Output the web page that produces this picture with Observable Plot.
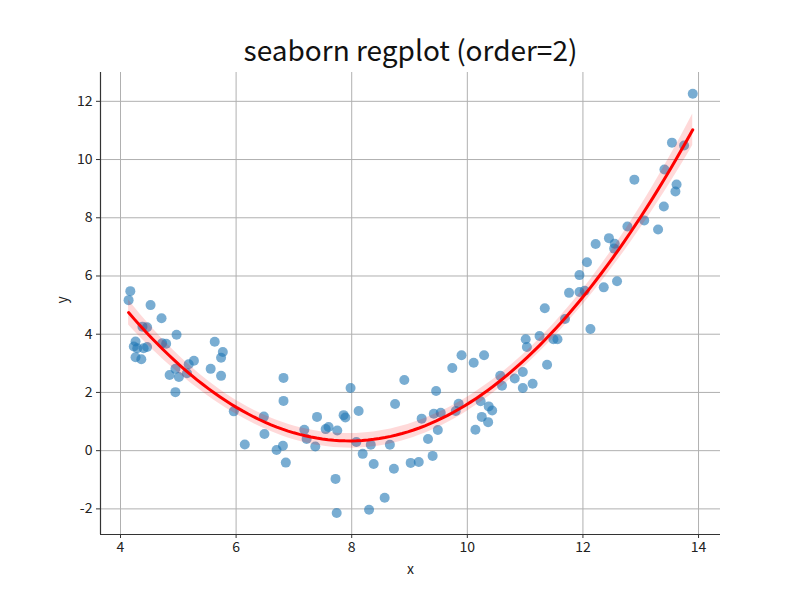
<!DOCTYPE html>
<html><head><meta charset="utf-8">
<script src="https://cdn.jsdelivr.net/npm/d3@7"></script>
<script src="https://cdn.jsdelivr.net/npm/@observablehq/plot@0.6"></script>
<style>body{margin:0;background:#fff}</style>
</head><body><div id="chart"></div>
<script>
const xValues = [4.17,4.14,4.52,4.71,4.38,4.46,4.97,4.26,4.23,4.29,4.40,4.46,4.72,4.79,5.63,5.77,5.74,4.26,4.36,5.27,5.18,5.56,4.95,4.85,5.01,5.15,5.74,4.95,5.96,6.82,6.82,6.48,6.49,6.15,6.81,6.70,6.86,7.98,7.40,7.86,7.89,8.12,8.75,7.18,7.22,7.55,7.60,7.75,7.37,8.08,8.33,8.66,8.19,8.38,8.73,7.72,8.57,7.74,8.30,9.02,9.16,9.40,9.32,9.49,9.21,9.42,9.54,9.80,9.85,9.46,8.91,9.74,9.90,10.11,10.29,10.23,10.37,10.43,10.25,10.36,10.14,10.57,10.60,10.82,10.96,10.96,11.13,11.38,11.01,11.03,11.25,11.49,11.56,11.34,11.69,12.13,11.76,11.94,12.03,11.94,12.07,12.36,12.59,12.22,12.45,12.55,12.54,12.77,13.90,13.54,13.75,13.41,12.89,13.62,13.60,13.40,13.06,13.30];
const yValues = [5.48,5.17,5.00,4.55,4.26,4.24,3.98,3.75,3.58,3.52,3.52,3.56,3.69,3.67,3.74,3.39,3.19,3.21,3.14,3.09,2.97,2.81,2.81,2.60,2.53,2.66,2.57,2.01,1.35,2.50,1.71,1.17,0.57,0.21,0.17,0.02,-0.41,2.15,1.16,1.22,1.14,1.36,1.60,0.72,0.40,0.74,0.81,0.69,0.14,0.30,0.20,0.20,-0.11,-0.46,-0.62,-0.97,-1.62,-2.14,-2.03,-0.42,-0.39,-0.18,0.40,0.71,1.10,1.27,1.30,1.36,1.61,2.05,2.43,2.84,3.28,3.02,3.28,1.70,1.52,1.38,1.16,0.98,0.72,2.57,2.23,2.48,2.70,2.15,2.30,2.95,3.83,3.56,3.94,3.83,3.83,4.89,4.52,4.18,5.42,5.45,5.49,6.03,6.47,5.61,5.82,7.10,7.30,7.11,6.94,7.70,12.26,10.58,10.48,9.66,9.31,9.14,8.90,8.39,7.91,7.60];
const xTicks = [4, 6, 8, 10, 12, 14];
const yTicks = [-2, 0, 2, 4, 6, 8, 10, 12];
const title = "seaborn regplot (order=2)";
const xLabel = "x";
const yLabel = "y";

const data = xValues.map((x, i) => ({x, y: yValues[i]}));

// quadratic least-squares fit with 95% confidence band
function invert(m) {
  const n = m.length;
  const a = m.map((r, i) => [...r, ...m.map((_, j) => (i === j ? 1 : 0))]);
  for (let c = 0; c < n; c++) {
    let p = c;
    for (let r = c + 1; r < n; r++) if (Math.abs(a[r][c]) > Math.abs(a[p][c])) p = r;
    [a[c], a[p]] = [a[p], a[c]];
    const d = a[c][c];
    for (let k = 0; k < 2 * n; k++) a[c][k] /= d;
    for (let r = 0; r < n; r++) if (r !== c) {
      const f = a[r][c];
      for (let k = 0; k < 2 * n; k++) a[r][k] -= f * a[c][k];
    }
  }
  return a.map(r => r.slice(n));
}
const basis = x => [1, x, x * x];
const XtX = [[0,0,0],[0,0,0],[0,0,0]], Xty = [0,0,0];
data.forEach(({x, y}) => {
  const b = basis(x);
  for (let i = 0; i < 3; i++) {
    Xty[i] += b[i] * y;
    for (let j = 0; j < 3; j++) XtX[i][j] += b[i] * b[j];
  }
});
const inv = invert(XtX);
const coef = inv.map(r => r.reduce((s, v, j) => s + v * Xty[j], 0));
const predict = x => basis(x).reduce((s, v, i) => s + v * coef[i], 0);
const sse = data.reduce((s, d) => s + (d.y - predict(d.x)) ** 2, 0);
const s2 = sse / (data.length - 3);
const [x0, x1] = d3.extent(xValues);
const fit = d3.range(100).map(i => {
  const x = x0 + (x1 - x0) * i / 99;
  const b = basis(x);
  let v = 0;
  for (let i2 = 0; i2 < 3; i2++) for (let j = 0; j < 3; j++) v += b[i2] * inv[i2][j] * b[j];
  const se = Math.sqrt(s2 * v);
  const y = predict(x);
  return {x, y, lo: y - 1.98 * se, hi: y + 1.98 * se};
});

const xDomain = [3.654, 14.38];
const yDomain = [-2.88, 12.99];

const chart = Plot.plot({
  width: 800,
  height: 600,
  marginTop: 72,
  marginBottom: 66,
  marginLeft: 100,
  marginRight: 80,
  style: {fontFamily: "'Noto Sans CJK JP', sans-serif", fontSize: "14px", background: "white", color: "#222"},
  x: {domain: xDomain, label: null},
  y: {domain: yDomain, label: null},
  marks: [
    Plot.gridX(xTicks, {stroke: "#b0b0b0", strokeOpacity: 1, strokeWidth: 1}),
    Plot.gridY(yTicks, {stroke: "#b0b0b0", strokeOpacity: 1, strokeWidth: 1}),
    Plot.ruleX([xDomain[0]], {stroke: "#333", strokeWidth: 1.2}),
    Plot.ruleY([yDomain[0]], {stroke: "#333", strokeWidth: 1.2}),
    Plot.axisX(xTicks, {tickSize: 4, tickPadding: 4, label: null, fontSize: 14, stroke: "#333"}),
    Plot.axisY(yTicks, {tickSize: 4, tickPadding: 4, label: null, fontSize: 14, stroke: "#333", tickFormat: d => String(d)}),
    Plot.dot(data, {x: "x", y: "y", r: 5, fill: "#1f77b4", fillOpacity: 0.6, stroke: "none"}),
    Plot.areaY(fit, {x: "x", y1: "lo", y2: "hi", fill: "red", fillOpacity: 0.15}),
    Plot.line(fit, {x: "x", y: "y", stroke: "red", strokeWidth: 3}),
    Plot.text([title], {frameAnchor: "top", dy: -20, fontSize: 28, lineAnchor: "middle", fill: "#111"}),
    Plot.text([xLabel], {frameAnchor: "bottom", dy: 35, fontSize: 14, lineAnchor: "middle", fill: "#222"}),
    Plot.text([yLabel], {frameAnchor: "left", dx: -38, fontSize: 14, rotate: -90, fill: "#222"})
  ]
});
document.getElementById("chart").append(chart);
</script>
</body></html>
